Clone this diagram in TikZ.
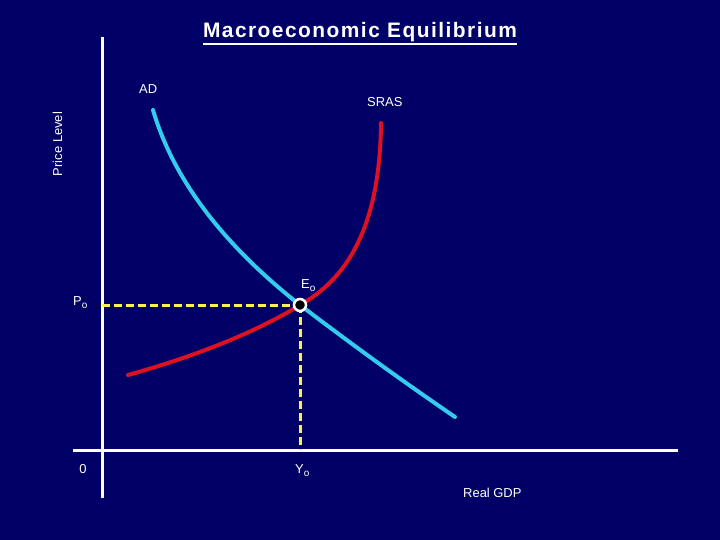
\documentclass[tikz,border=0pt]{standalone}
\usepackage{fontspec}
\setmainfont{Liberation Sans}
\usetikzlibrary{positioning}

\definecolor{slidebg}{RGB}{0,0,102}
\definecolor{adcyan}{RGB}{51,204,238}
\definecolor{srasred}{RGB}{221,17,34}
\definecolor{guideyellow}{RGB}{255,238,85}
\newcommand{\lowsub}[1]{\raisebox{-3.5bp}{\fontsize{10}{12}\selectfont #1}}

\begin{document}
\begin{tikzpicture}[
    x=1bp, y=-1bp,
    lbl/.style={text=white, font=\fontsize{13}{15}\selectfont, inner sep=0pt},
    axis/.style={draw=white, line width=3bp},
    curve/.style={line width=4bp, line cap=round},
    guide/.style={draw=guideyellow, line width=3bp, dash pattern=on 8bp off 4bp}
]
\fill[slidebg] (0,0) rectangle (720,540);
\useasboundingbox (0,0) rectangle (720,540);

% title
\node[text=white, inner sep=0pt, anchor=base,
      font=\fontsize{21}{24}\bfseries\addfontfeature{LetterSpace=7}\selectfont]
      (title) at (360,38) {Macroeconomic Equilibrium};
\draw[white, line width=2bp] ([yshift=-1bp]title.south west) -- ([yshift=-1bp]title.south east);

% axes
\coordinate (yaxtop) at (102,37);
\coordinate (yaxbot) at (102,498);
\coordinate (xaxleft) at (73,450);
\coordinate (xaxright) at (678,450);
\draw[axis] (yaxtop) -- (yaxbot);
\draw[axis] (xaxleft) -- (xaxright);

% equilibrium and guides
\coordinate (E) at (300,305);
\coordinate (pmark) at (102,305);
\coordinate (ymark) at (300,450);
\draw[guide] (pmark) -- (E);
\draw[guide] (E) -- (ymark);

% curves
\coordinate (adtop) at (153,110);
\coordinate (adbot) at (455,417);
\draw[curve, adcyan] (adtop) .. controls (175,185) and (230,250) .. (E)
    .. controls (370,358) and (410,386) .. (adbot);
\coordinate (srasbot) at (128,375);
\coordinate (srastop) at (381,123);
\draw[curve, srasred] (srasbot) .. controls (200,355) and (260,330) .. (E)
    .. controls (345,280) and (380,230) .. (srastop);

\node[circle, draw=white, fill=black, line width=2.5bp, minimum size=12bp,
      inner sep=0pt] (eq) at (E) {};

% labels
\node[lbl, anchor=base west] (adlabel) at (139,94) {AD};
\node[lbl, anchor=base west] (saslabel) at (367,107) {SRAS};
\node[lbl, anchor=base west] (eqlabel) at (301,288) {E\lowsub{o}};
\node[lbl, anchor=base west] (plabel) at (73,305) {P\lowsub{o}};
\node[lbl, anchor=base] (zerolabel) at (83,473) {0};
\node[lbl, anchor=base west] (ylabel) at (295,473) {Y\lowsub{o}};
\node[lbl, anchor=base west] (gdplabel) at (463,497) {Real GDP};
\node[lbl, anchor=base, rotate=90] (pricelabel) at (62,144) {Price Level};
\end{tikzpicture}
\end{document}
